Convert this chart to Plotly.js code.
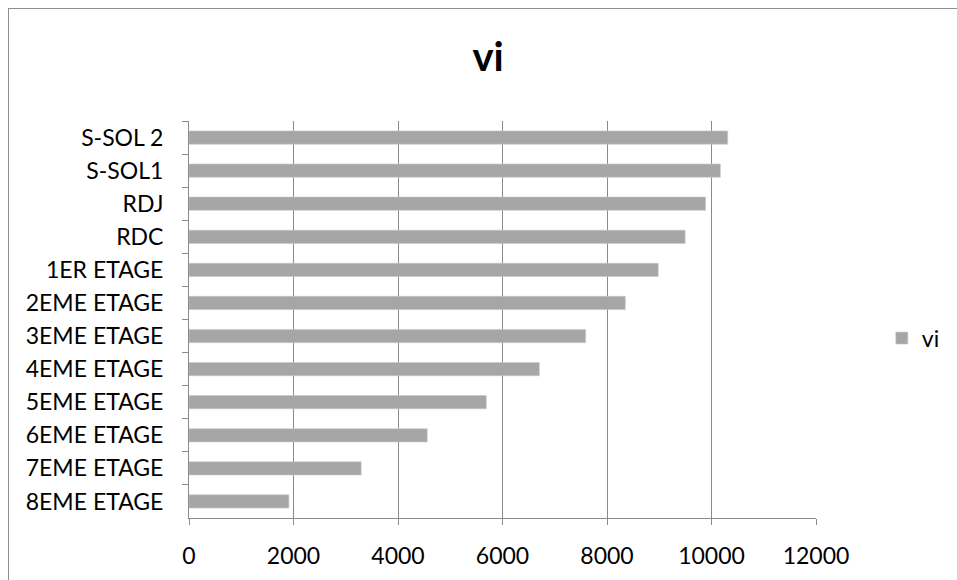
<!DOCTYPE html>
<html>
<head>
<meta charset="utf-8">
<script src="https://cdn.plot.ly/plotly-3.0.1.min.js"></script>
<style>
  html, body { margin: 0; padding: 0; background: #ffffff; overflow: hidden; }
  #frame { position: absolute; left: 8px; top: 8px; width: 1000px; height: 700px;
           border-left: 1px solid #8e8e8e; border-top: 1px solid #8e8e8e; }
  #chart { position: absolute; left: 0; top: 0; width: 957px; height: 580px; }
</style>
</head>
<body>
<div id="frame"></div>
<div id="chart"></div>
<script>
// Data (top to bottom as drawn)
const categories = ["S-SOL 2", "S-SOL1", "RDJ", "RDC", "1ER ETAGE", "2EME ETAGE",
                    "3EME ETAGE", "4EME ETAGE", "5EME ETAGE", "6EME ETAGE",
                    "7EME ETAGE", "8EME ETAGE"];
const viValues = [10310, 10170, 9885, 9495, 8980, 8350, 7590, 6705, 5690, 4560, 3295, 1912];
const xTickValues = [0, 2000, 4000, 6000, 8000, 10000, 12000];
const seriesName = "vi";
const chartTitle = "vi";

const fontFamily = "Lato, 'Open Sans', sans-serif";

const trace = {
  type: "bar",
  orientation: "h",
  name: seriesName,
  x: viValues,
  y: categories,
  marker: { color: "#a6a6a6", line: { color: "#c8c8c8", width: 0.6 } },
  showlegend: true,
  hoverinfo: "x+y"
};

const layout = {
  width: 957,
  height: 580,
  paper_bgcolor: "rgba(0,0,0,0)",
  plot_bgcolor: "rgba(0,0,0,0)",
  margin: { l: 189, r: 132, t: 121, b: 62, pad: 0 },
  font: { family: fontFamily, color: "#000000", size: 23 },
  title: {
    text: "<b>" + chartTitle + "</b>",
    font: { family: fontFamily, size: 40, color: "#000000" },
    x: 0.51, xref: "container", xanchor: "center",
    y: 0.902, yref: "container", yanchor: "middle"
  },
  bargap: 0.6,
  xaxis: {
    range: [0, 12000],
    tickmode: "array",
    tickvals: xTickValues,
    ticktext: xTickValues.map(String),
    showgrid: true,
    gridcolor: "#8a8a8a",
    gridwidth: 1,
    showline: true,
    linecolor: "#8a8a8a",
    linewidth: 1,
    ticks: "outside",
    ticklen: 6,
    tickcolor: "#8a8a8a",
    tickfont: { family: fontFamily, size: 23, color: "#000000" },
    ticklabelstandoff: 11,
    zeroline: false,
    fixedrange: true
  },
  yaxis: {
    type: "category",
    autorange: "reversed",
    showgrid: false,
    showline: true,
    linecolor: "#8a8a8a",
    linewidth: 1,
    ticks: "outside",
    tickson: "boundaries",
    ticklen: 6,
    tickcolor: "#8a8a8a",
    tickfont: { family: fontFamily, size: 23, color: "#000000" },
    ticklabelstandoff: 20,
    zeroline: false,
    fixedrange: true
  },
  legend: {
    x: 1.105, xref: "paper", xanchor: "left",
    y: 0.453, yref: "paper", yanchor: "middle",
    font: { family: fontFamily, size: 23, color: "#000000" },
    bgcolor: "rgba(0,0,0,0)",
    itemwidth: 30,
    tracegroupgap: 0
  }
};

Plotly.newPlot("chart", [trace], layout, { displayModeBar: false, staticPlot: true });
</script>
</body>
</html>
